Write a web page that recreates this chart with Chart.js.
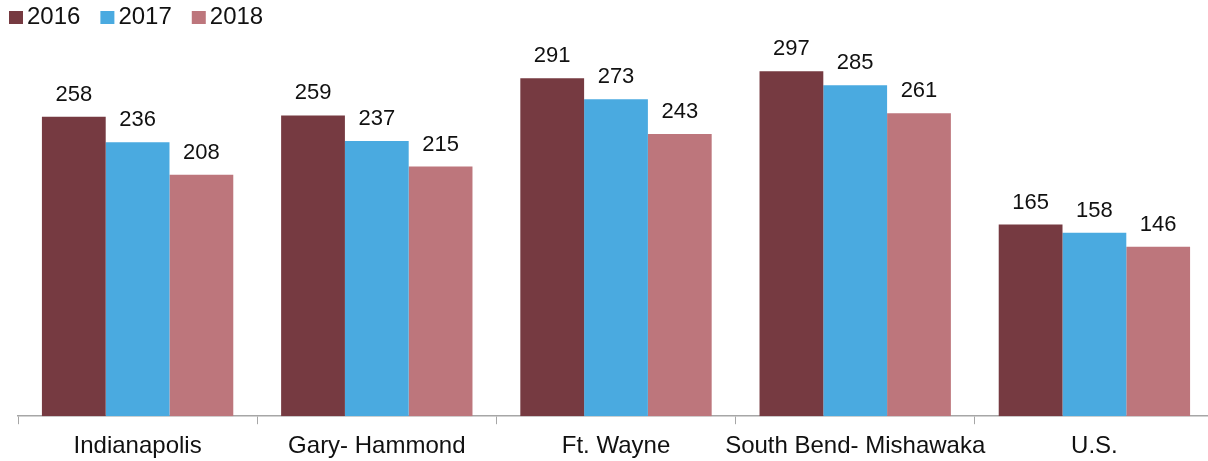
<!DOCTYPE html>
<html>
<head>
<meta charset="utf-8">
<script src="https://cdn.jsdelivr.net/npm/chart.js@4/dist/chart.umd.min.js"></script>
<style>
  html, body { margin: 0; padding: 0; background: #fff; overflow: hidden; }
  #wrap { width: 1214px; height: 461px; }
</style>
</head>
<body>
<div id="wrap"><canvas id="myChart"></canvas></div>
<script>
const areas = ['Indianapolis', 'Gary- Hammond', 'Ft. Wayne', 'South Bend- Mishawaka', 'U.S.'];
const years = ['2016', '2017', '2018'];
const values2016 = [258, 259, 291, 297, 165];
const values2017 = [236, 237, 273, 285, 158];
const values2018 = [208, 215, 243, 261, 146];
const colors = ['#763A41', '#4AAAE0', '#BD767C'];

const font = 'Arial, "Liberation Sans", sans-serif';

// numbers drawn above each bar
const barLabels = {
    id: 'barLabels',
    afterDatasetsDraw(chart) {
        const c = chart.ctx;
        c.save();
        c.font = '22px ' + font;
        c.fillStyle = '#111';
        c.textAlign = 'center';
        c.textBaseline = 'alphabetic';
        chart.data.datasets.forEach((ds, i) => {
            chart.getDatasetMeta(i).data.forEach((bar, j) => {
                c.fillText(ds.data[j], bar.x, bar.y - 16);
            });
        });
        c.restore();
    }
};

// compact legend in the top-left corner (tight gap between swatch and year)
const yearKey = {
    id: 'yearKey',
    afterDraw(chart) {
        const c = chart.ctx;
        c.save();
        c.font = '24px ' + font;
        c.textBaseline = 'middle';
        c.textAlign = 'left';
        let x = 9;
        chart.data.datasets.forEach((ds) => {
            c.fillStyle = ds.backgroundColor;
            c.fillRect(x, 11, 14, 13);
            c.fillStyle = '#111';
            c.fillText(ds.label, x + 18, 17);
            x += 18 + c.measureText(ds.label).width + 20;
        });
        c.restore();
    }
};

const ctx = document.getElementById('myChart').getContext('2d');
const myChart = new Chart(ctx, {
    type: 'bar',
    data: {
        labels: areas,
        datasets: [values2016, values2017, values2018].map((d, i) => ({
            label: years[i],
            data: d,
            backgroundColor: colors[i],
            borderWidth: 0,
            categoryPercentage: 0.8,
            barPercentage: 1.0
        }))
    },
    options: {
        responsive: true,
        maintainAspectRatio: false,
        animation: false,
        layout: { padding: { left: 0, right: 0, top: 40, bottom: -8 } },
        plugins: {
            legend: { display: false },
            tooltip: { enabled: false }
        },
        scales: {
            x: {
                grid: {
                    display: true,
                    drawOnChartArea: false,
                    offset: true,
                    tickLength: 8,
                    color: '#A6A6A6'
                },
                border: { color: '#A6A6A6', width: 1.5 },
                ticks: {
                    color: '#111',
                    font: { family: font, size: 24 },
                    maxRotation: 0,
                    autoSkip: false,
                    padding: 8
                }
            },
            y: {
                display: true,
                min: 0,
                max: 324,
                afterFit(scale) { scale.width = 18; },
                grid: { display: false },
                border: { display: false },
                ticks: { display: false }
            }
        }
    },
    plugins: [barLabels, yearKey]
});
</script>
</body>
</html>
